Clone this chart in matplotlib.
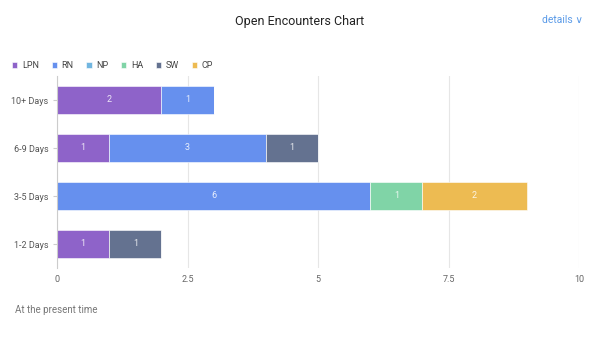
import matplotlib.pyplot as plt
import numpy as np

# Data
categories = ['1-2 Days', '3-5 Days', '6-9 Days', '10+ Days']
series = ['LPN', 'RN', 'NP', 'HA', 'SW', 'CP']
lpn = [1, 0, 1, 2]
rn = [0, 6, 3, 1]
np_vals = [0, 0, 0, 0]
ha = [0, 1, 0, 0]
sw = [1, 0, 1, 0]
cp = [0, 2, 0, 0]
colors = ['#8e63c9', '#6690ee', '#72b6e0', '#80d4a7', '#647290', '#edbb52']
x_ticks = [0, 2.5, 5, 7.5, 10]
x_ticklabels = ['0', '2.5', '5', '7.5', '10']

plt.rcParams['font.family'] = ['Roboto', 'DejaVu Sans']

fig = plt.figure(figsize=(6, 3.38), dpi=100)
ax = fig.add_axes([57 / 600, 1 - 268 / 338, 522 / 600, 192 / 338])

y = np.arange(len(categories))
left = np.zeros(len(categories))
for name, vals, c in zip(series, [lpn, rn, np_vals, ha, sw, cp], colors):
    vals = np.array(vals, dtype=float)
    bars = ax.barh(y, vals, left=left, height=0.58, color=c, label=name,
                   edgecolor='white', linewidth=0.4)
    for b, v in zip(bars, vals):
        if v > 0:
            ax.text(b.get_x() + b.get_width() / 2, b.get_y() + b.get_height() / 2,
                    f'{int(v)}', ha='center', va='center', color='white',
                    fontsize=6.5, alpha=0.85)
    left += vals

ax.set_xlim(0, 10)
ax.set_ylim(-0.5, len(categories) - 0.5)
ax.set_yticks(y)
ax.set_yticklabels(categories, fontsize=6.5, color='#555555')
ax.set_xticks(x_ticks)
ax.set_xticklabels(x_ticklabels, fontsize=6.5, color='#666666')
ax.tick_params(axis='x', length=0, pad=5)
ax.tick_params(axis='y', length=3, color='#cccccc', pad=3)
ax.grid(axis='x', color='#e6e6e6', linewidth=0.8)
ax.set_axisbelow(True)
for s in ['top', 'right', 'bottom']:
    ax.spines[s].set_visible(False)
ax.spines['left'].set_color('#cccccc')
ax.spines['left'].set_linewidth(0.8)

fig.text(0.5, 1 - 21 / 338, 'Open Encounters Chart', ha='center', va='center',
         fontsize=9, color='#222222')
fig.text(583 / 600, 1 - 20 / 338, 'details \u2228', ha='right', va='center',
         fontsize=7.5, color='#5b9be8')
fig.text(15 / 600, 1 - 310 / 338, 'At the present time', ha='left', va='center',
         fontsize=7, color='#777777')

handles, labels = ax.get_legend_handles_labels()
leg = fig.legend(handles, labels, loc='center left', bbox_to_anchor=(12 / 600, 1 - 66 / 338),
                 ncol=6, frameon=False, fontsize=6.5, handlelength=0.6, handleheight=0.6,
                 handletextpad=0.5, columnspacing=1.4, borderaxespad=0, borderpad=0)
for t in leg.get_texts():
    t.set_color('#444444')

fig.savefig('out.png', dpi=100, facecolor='white')
